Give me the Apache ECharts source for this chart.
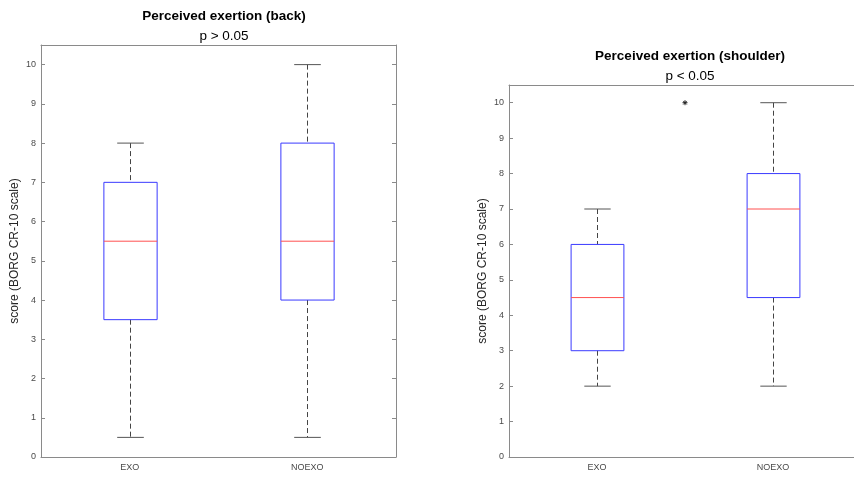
<!DOCTYPE html>
<html>
<head>
<meta charset="utf-8">
<script src="https://cdn.jsdelivr.net/npm/echarts@6/dist/echarts.min.js"></script>
<style>
  html, body { margin: 0; padding: 0; background: #fff; }
  #chart { width: 854px; height: 479px; }
</style>
</head>
<body>
<div id="chart"></div>
<script>
// Groups on the horizontal axis
const categories = ['EXO', 'NOEXO'];
// Box statistics per group: [lower whisker, Q1, median, Q3, upper whisker]
const backStats = [
  [0.5, 3.5, 5.5, 7, 8],
  [0.5, 4, 5.5, 8, 10]
];
const shoulderStats = [
  [2, 3, 4.5, 6, 7],
  [2, 4.5, 7, 8, 10]
];
// Outlier markers: [group position (0 = EXO, 1 = NOEXO), score]
const backOutliers = [];
const shoulderOutliers = [[0.5, 10]];
// Y-axis range and tick step
const yMin = 0, yMax = 10.5, yStep = 1;

const FONT = 'Arial, "Liberation Sans", sans-serif';
const FRAME = '#8a8a8a';
const LABEL = '#4a4a4a';

function boxItem(params, api) {
  const x = api.value(0);
  const lo = api.coord([x, api.value(1)]);
  const q1 = api.coord([x, api.value(2)]);
  const md = api.coord([x, api.value(3)]);
  const q3 = api.coord([x, api.value(4)]);
  const hi = api.coord([x, api.value(5)]);
  const band = api.size([1, 0])[0];
  const cx = Math.round(lo[0]) + 0.5;
  const bw = band * 0.3, cw = band * 0.15;
  const whisker = { stroke: '#444', lineWidth: 1, lineDash: [5, 3] };
  const cap = { stroke: '#555', lineWidth: 1 };
  return {
    type: 'group',
    children: [
      { type: 'line', shape: { x1: cx, y1: hi[1], x2: cx, y2: q3[1] }, style: whisker },
      { type: 'line', shape: { x1: cx, y1: q1[1], x2: cx, y2: lo[1] }, style: whisker },
      { type: 'line', shape: { x1: cx - cw / 2, y1: hi[1], x2: cx + cw / 2, y2: hi[1] }, style: cap },
      { type: 'line', shape: { x1: cx - cw / 2, y1: lo[1], x2: cx + cw / 2, y2: lo[1] }, style: cap },
      { type: 'rect', shape: { x: cx - bw / 2, y: q3[1], width: bw, height: q1[1] - q3[1] },
        style: { fill: 'none', stroke: '#3a3aff', lineWidth: 1 } },
      { type: 'line', shape: { x1: cx - bw / 2, y1: md[1], x2: cx + bw / 2, y2: md[1] },
        style: { stroke: '#ff5050', lineWidth: 1 } }
    ]
  };
}

function starItem(params, api) {
  const pos = api.value(0);
  const v = api.value(1);
  const i0 = Math.floor(pos);
  const a = api.coord([i0, v]);
  const b = api.coord([Math.min(i0 + 1, categories.length - 1), v]);
  const x = a[0] + (b[0] - a[0]) * (pos - i0);
  const y = a[1];
  const r = 2.5;
  const st = { stroke: '#222', lineWidth: 1 };
  return {
    type: 'group',
    children: [
      { type: 'line', shape: { x1: x - r, y1: y, x2: x + r, y2: y }, style: st },
      { type: 'line', shape: { x1: x, y1: y - r, x2: x, y2: y + r }, style: st },
      { type: 'line', shape: { x1: x - r * 0.7, y1: y - r * 0.7, x2: x + r * 0.7, y2: y + r * 0.7 }, style: st },
      { type: 'line', shape: { x1: x - r * 0.7, y1: y + r * 0.7, x2: x + r * 0.7, y2: y - r * 0.7 }, style: st }
    ]
  };
}

function xAxes(gridIndex) {
  return [
    {
      type: 'category', gridIndex, data: categories, position: 'bottom',
      axisLine: { onZero: false, lineStyle: { color: FRAME } },
      axisTick: { inside: true, alignWithLabel: true, length: 4, lineStyle: { color: FRAME } },
      axisLabel: { color: LABEL, fontSize: 9, fontFamily: FONT, margin: 6 },
      splitLine: { show: false }
    },
    {
      type: 'category', gridIndex, data: categories, position: 'top',
      axisLine: { onZero: false, lineStyle: { color: FRAME } },
      axisTick: { inside: true, alignWithLabel: true, length: 4, lineStyle: { color: FRAME } },
      axisLabel: { show: false },
      splitLine: { show: false }
    }
  ];
}

function yAxes(gridIndex) {
  return [
    {
      type: 'value', gridIndex, min: yMin, max: yMax, interval: yStep, position: 'left',
      name: 'score (BORG CR-10 scale)', nameLocation: 'middle', nameGap: 20,
      nameTextStyle: { color: '#262626', fontSize: 12, fontFamily: FONT },
      axisLine: { show: true, onZero: false, lineStyle: { color: FRAME } },
      axisTick: { show: true, inside: true, length: 4, lineStyle: { color: FRAME } },
      axisLabel: { color: LABEL, fontSize: 9, fontFamily: FONT, margin: 5, showMaxLabel: false },
      splitLine: { show: false }
    },
    {
      type: 'value', gridIndex, min: yMin, max: yMax, interval: yStep, position: 'right',
      axisLine: { show: true, onZero: false, lineStyle: { color: FRAME } },
      axisTick: { show: true, inside: true, length: 4, lineStyle: { color: FRAME } },
      axisLabel: { show: false },
      splitLine: { show: false }
    }
  ];
}

const toBoxData = stats => stats.map((s, i) => [i].concat(s));

const chart = echarts.init(document.getElementById('chart'), null, { renderer: 'canvas' });
chart.setOption({
  animation: false,
  backgroundColor: '#fff',
  title: [
    {
      text: 'Perceived exertion (back)', subtext: 'p > 0.05',
      left: 219, top: 4, textAlign: 'center', itemGap: 6,
      textStyle: { color: '#000', fontSize: 13.5, fontWeight: 'bold', fontFamily: FONT },
      subtextStyle: { color: '#000', fontSize: 13.5, fontFamily: FONT }
    },
    {
      text: 'Perceived exertion (shoulder)', subtext: 'p < 0.05',
      left: 685, top: 44, textAlign: 'center', itemGap: 6,
      textStyle: { color: '#000', fontSize: 13.5, fontWeight: 'bold', fontFamily: FONT },
      subtextStyle: { color: '#000', fontSize: 13.5, fontFamily: FONT }
    }
  ],
  grid: [
    { left: 41, top: 45, width: 355, height: 412, outerBoundsMode: 'none', containLabel: false },
    { left: 509, top: 85, width: 352, height: 372, outerBoundsMode: 'none', containLabel: false }
  ],
  xAxis: xAxes(0).concat(xAxes(1)),
  yAxis: yAxes(0).concat(yAxes(1)),
  series: [
    { type: 'custom', xAxisIndex: 0, yAxisIndex: 0, renderItem: boxItem,
      encode: { x: 0, y: [1, 2, 3, 4, 5] }, data: toBoxData(backStats) },
    { type: 'custom', xAxisIndex: 0, yAxisIndex: 0, renderItem: starItem,
      encode: { x: 0, y: 1 }, data: backOutliers },
    { type: 'custom', xAxisIndex: 2, yAxisIndex: 2, renderItem: boxItem,
      encode: { x: 0, y: [1, 2, 3, 4, 5] }, data: toBoxData(shoulderStats) },
    { type: 'custom', xAxisIndex: 2, yAxisIndex: 2, renderItem: starItem,
      encode: { x: 0, y: 1 }, data: shoulderOutliers }
  ]
});
</script>
</body>
</html>
